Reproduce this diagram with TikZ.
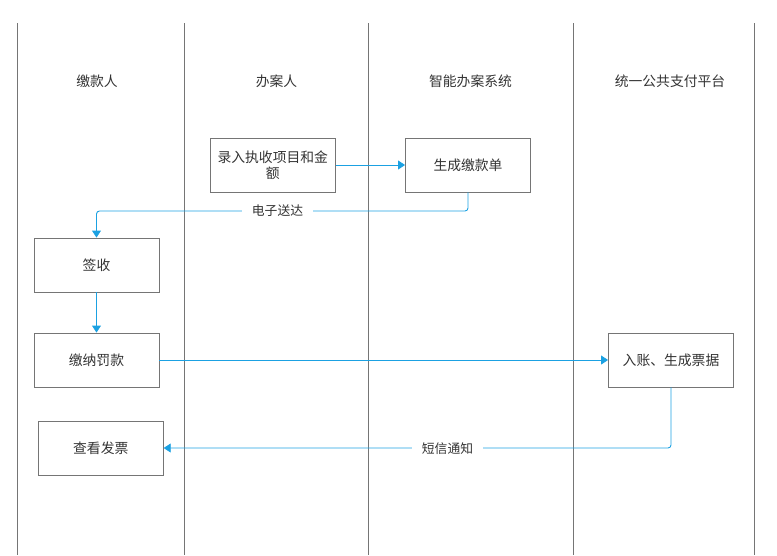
\documentclass[tikz,border=0pt]{standalone}
\usepackage{fontspec}
\setmainfont{Noto Sans CJK SC}
\usetikzlibrary{arrows.meta}
\definecolor{lanegray}{HTML}{757575}
\definecolor{boxgray}{HTML}{757575}
\definecolor{arrowblue}{HTML}{1BA1E2}
\definecolor{txt}{HTML}{333333}
\tikzset{
  procbox/.style={draw=boxgray, line width=0.9pt, fill=white, minimum width=125pt, minimum height=54pt,
    inner sep=2pt, text=txt, font=\fontsize{13.8}{16}\selectfont, align=center},
  lane/.style={draw=lanegray, line width=0.9pt},
  header/.style={text=txt, font=\fontsize{13.8}{16}\selectfont, inner sep=0pt},
  flow/.style={draw=arrowblue, line width=0.9pt, rounded corners=3pt, -{Triangle[length=7pt,width=9pt]}},
  lbl/.style={fill=white, text=txt, font=\fontsize{12.8}{15}\selectfont, inner sep=2pt, inner xsep=10pt}
}
\begin{document}
\begin{tikzpicture}[x=1pt,y=-1pt]
\useasboundingbox (0,0) rectangle (777,555);
% lanes
\foreach \lx/\nm in {17.5/l0,184.5/l1,368.5/l2,573.5/l3,754.5/l4}{
  \coordinate (\nm t) at (\lx,23);
  \coordinate (\nm b) at (\lx,555);
  \draw[lane] (\nm t) -- (\nm b);
}
% headers
\node[header] (h1) at (97,81) {缴款人};
\node[header] (h2) at (276.5,81) {办案人};
\node[header] (h3) at (470.5,81) {智能办案系统};
\node[header] (h4) at (670,81) {统一公共支付平台};
% boxes
\node[procbox] (A) at (272.75,165) {录入执收项目和金\\额};
\node[procbox] (B) at (468,165) {生成缴款单};
\node[procbox] (C) at (96.5,265) {签收};
\node[procbox] (D) at (96.5,360) {缴纳罚款};
\node[procbox] (E) at (671,360) {入账、生成票据};
\node[procbox] (F) at (100.75,448) {查看发票};
% connectors
\draw[flow] (A.east) -- (B.west);
\draw[flow] (B.south) -- (468,211) -- (96.5,211) -- (C.north);
\node[lbl] (l1) at (277.5,211) {电子送达};
\draw[flow] (C.south) -- (D.north);
\draw[flow] (D.east) -- (E.west);
\draw[flow] (E.south) |- (F.east);
\node[lbl] (l2) at (447.5,449) {短信通知};
\end{tikzpicture}
\end{document}
